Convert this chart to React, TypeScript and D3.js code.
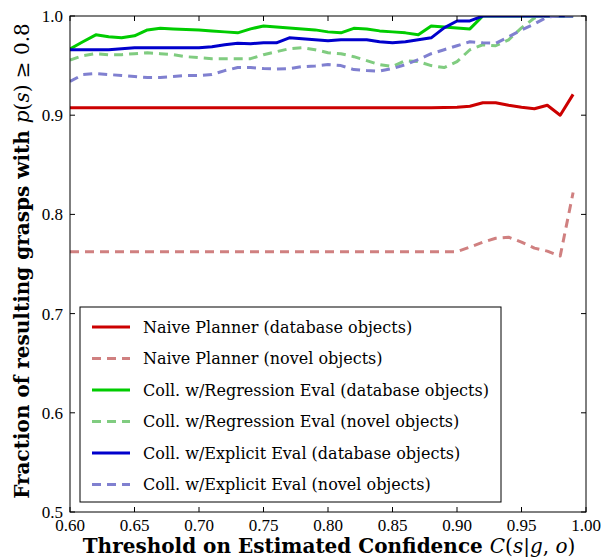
import React from 'react';
import * as d3 from 'd3';

// thresholds on estimated confidence
const thresholds = [
  0.60, 0.61, 0.62, 0.63, 0.64, 0.65, 0.66, 0.67, 0.68, 0.69,
  0.70, 0.71, 0.72, 0.73, 0.74, 0.75, 0.76, 0.77, 0.78, 0.79,
  0.80, 0.81, 0.82, 0.83, 0.84, 0.85, 0.86, 0.87, 0.88, 0.89,
  0.90, 0.91, 0.92, 0.93, 0.94, 0.95, 0.96, 0.97, 0.98, 0.99,
];

const naiveDb = [
  0.9076, 0.9076, 0.9076, 0.9076, 0.9076, 0.9076, 0.9076, 0.9076, 0.9076, 0.9076,
  0.9076, 0.9076, 0.9076, 0.9076, 0.9076, 0.9076, 0.9076, 0.9076, 0.9076, 0.9076,
  0.9076, 0.9076, 0.9076, 0.9076, 0.9076, 0.9076, 0.9076, 0.9076, 0.9076, 0.9078,
  0.908, 0.909, 0.9126, 0.9126, 0.910, 0.908, 0.9065, 0.910, 0.900, 0.921,
];
const naiveNovel = [
  0.7624, 0.7624, 0.7624, 0.7624, 0.7624, 0.7624, 0.7624, 0.7624, 0.7624, 0.7624,
  0.7624, 0.7624, 0.7624, 0.7624, 0.7624, 0.7624, 0.7624, 0.7624, 0.7624, 0.7624,
  0.7624, 0.7624, 0.7624, 0.7624, 0.7624, 0.7624, 0.7624, 0.7624, 0.7624, 0.7624,
  0.7624, 0.767, 0.772, 0.776, 0.777, 0.772, 0.766, 0.763, 0.758, 0.822,
];
const regressionDb = [
  0.9667, 0.974, 0.981, 0.979, 0.978, 0.980, 0.986, 0.9876, 0.987, 0.9865,
  0.986, 0.985, 0.984, 0.983, 0.987, 0.990, 0.989, 0.988, 0.987, 0.986,
  0.984, 0.983, 0.9876, 0.987, 0.985, 0.984, 0.983, 0.981, 0.990, 0.989,
  0.988, 0.987, 1.0, 1.0, 1.0, 1.0, 1.0, 1.0, 1.0, 1.0,
];
const regressionNovel = [
  0.9556, 0.960, 0.962, 0.961, 0.961, 0.962, 0.963, 0.962, 0.961, 0.959,
  0.958, 0.957, 0.957, 0.957, 0.957, 0.961, 0.964, 0.967, 0.968, 0.966,
  0.963, 0.962, 0.959, 0.955, 0.951, 0.949, 0.955, 0.954, 0.950, 0.948,
  0.954, 0.966, 0.971, 0.970, 0.976, 0.988, 0.998, 1.0, 1.0, 1.0,
];
const explicitDb = [
  0.966, 0.966, 0.966, 0.966, 0.967, 0.968, 0.968, 0.968, 0.968, 0.968,
  0.968, 0.969, 0.971, 0.9725, 0.972, 0.973, 0.973, 0.978, 0.977, 0.976,
  0.975, 0.976, 0.976, 0.976, 0.974, 0.973, 0.974, 0.976, 0.978, 0.988,
  0.995, 0.995, 1.0, 1.0, 1.0, 1.0, 1.0, 1.0, 1.0, 1.0,
];
const explicitNovel = [
  0.934, 0.941, 0.942, 0.941, 0.940, 0.939, 0.938, 0.938, 0.939, 0.940,
  0.940, 0.941, 0.945, 0.948, 0.948, 0.947, 0.9466, 0.947, 0.949, 0.9496,
  0.951, 0.950, 0.946, 0.945, 0.9445, 0.947, 0.951, 0.956, 0.962, 0.966,
  0.970, 0.974, 0.973, 0.9725, 0.979, 0.986, 0.992, 0.999, 1.0, 1.0,
];

const seriesNames = [
  'Naive Planner (database objects)',
  'Naive Planner (novel objects)',
  'Coll. w/Regression Eval (database objects)',
  'Coll. w/Regression Eval (novel objects)',
  'Coll. w/Explicit Eval (database objects)',
  'Coll. w/Explicit Eval (novel objects)',
];
const seriesValues = [naiveDb, naiveNovel, regressionDb, regressionNovel, explicitDb, explicitNovel];
const seriesColors = ['#cc0000', '#d08080', '#00cc00', '#80cc80', '#0000cc', '#8080d0'];
const seriesDashed = [false, true, false, true, false, true];

const xTicks = [0.60, 0.65, 0.70, 0.75, 0.80, 0.85, 0.90, 0.95, 1.00];
const yTicks = [0.5, 0.6, 0.7, 0.8, 0.9, 1.0];

const W = 602, H = 557;
const left = 70, right = 586, top = 16, bottom = 512;
const serif = '"Liberation Serif", "DejaVu Serif", serif';
const wideSerif = '"DejaVu Serif", serif';

export default function App() {
  const x = d3.scaleLinear().domain([0.6, 1.0]).range([left, right]);
  const y = d3.scaleLinear().domain([0.5, 1.0]).range([bottom, top]);
  const line = d3.line<number>().x((_, i) => x(thresholds[i])).y(d => y(d));

  const tickLen = 5;
  const legX = 80, legY = 307, legW = 421, legH = 195;
  const rowH = 31.5;

  return (
    <svg width={W} height={H} style={{ position: 'absolute', left: 0, top: 0 }} fontFamily={serif}>
      <rect width={W} height={H} fill="white" />
      <defs>
        <clipPath id="plotClip">
          <rect x={left} y={top} width={right - left} height={bottom - top} />
        </clipPath>
      </defs>

      <g clipPath="url(#plotClip)">
        {seriesValues.map((vals, i) => (
          <path key={i} d={line(vals) || ''} fill="none" stroke={seriesColors[i]}
            strokeWidth={3} strokeDasharray={seriesDashed[i] ? '9,6' : undefined}
            strokeLinejoin="round" />
        ))}
      </g>

      {/* axes frame */}
      <rect x={left} y={top} width={right - left} height={bottom - top} fill="none" stroke="black" strokeWidth={1} />

      {xTicks.map(t => (
        <g key={'x' + t}>
          <line x1={x(t)} x2={x(t)} y1={bottom} y2={bottom - tickLen} stroke="black" />
          <line x1={x(t)} x2={x(t)} y1={top} y2={top + tickLen} stroke="black" />
          <text x={x(t)} y={bottom + 19} textAnchor="middle" fontSize={17}>{t.toFixed(2)}</text>
        </g>
      ))}
      {yTicks.map(t => (
        <g key={'y' + t}>
          <line x1={left} x2={left + tickLen} y1={y(t)} y2={y(t)} stroke="black" />
          <line x1={right} x2={right - tickLen} y1={y(t)} y2={y(t)} stroke="black" />
          <text x={left - 7} y={y(t)} dy="0.35em" textAnchor="end" fontSize={17}>{t.toFixed(1)}</text>
        </g>
      ))}

      {/* axis labels */}
      <text x={(left + right) / 2 + 1} y={553} textAnchor="middle" fontSize={20} fontWeight="bold" fontFamily={wideSerif}>
        Threshold on Estimated Confidence{' '}
        <tspan fontStyle="italic" fontWeight="normal">C</tspan>
        <tspan fontWeight="normal">(</tspan>
        <tspan fontStyle="italic" fontWeight="normal">s</tspan>
        <tspan fontWeight="normal">|</tspan>
        <tspan fontStyle="italic" fontWeight="normal">g</tspan>
        <tspan fontWeight="normal">, </tspan>
        <tspan fontStyle="italic" fontWeight="normal">o</tspan>
        <tspan fontWeight="normal">)</tspan>
      </text>
      <text transform={`translate(29, ${(top + bottom) / 2 - 3}) rotate(-90)`} textAnchor="middle" fontSize={20} fontWeight="bold" fontFamily={wideSerif}>
        Fraction of resulting grasps with{' '}
        <tspan fontStyle="italic" fontWeight="normal">p</tspan>
        <tspan fontWeight="normal">(</tspan>
        <tspan fontStyle="italic" fontWeight="normal">s</tspan>
        <tspan fontWeight="normal">) ≥ 0.8</tspan>
      </text>

      {/* legend */}
      <rect x={legX} y={legY} width={legW} height={legH} fill="white" stroke="black" strokeWidth={1} />
      {seriesNames.map((name, i) => {
        const ly = legY + 20 + i * rowH;
        return (
          <g key={name}>
            <line x1={92} x2={130} y1={ly} y2={ly} stroke={seriesColors[i]} strokeWidth={3}
              strokeDasharray={seriesDashed[i] ? '9,6' : undefined} />
            <text x={143} y={ly} dy="0.35em" fontSize={16} fontFamily={wideSerif}>{name}</text>
          </g>
        );
      })}
    </svg>
  );
}
